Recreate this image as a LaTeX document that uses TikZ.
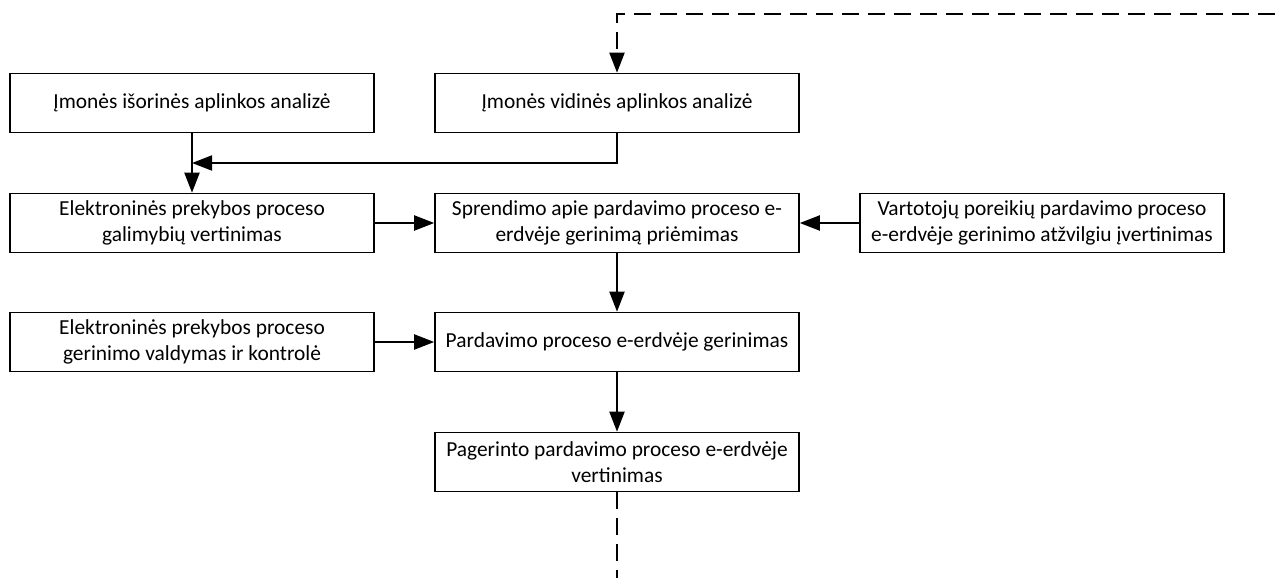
\documentclass[tikz,border=0pt]{standalone}
\usepackage{fontspec}
\setmainfont{Carlito}
\usetikzlibrary{arrows.meta}
\begin{document}
\begin{tikzpicture}[x=1pt,y=-1pt,
  box/.style={draw,line width=1.6pt,rectangle,minimum width=364pt,minimum height=59pt,
    align=center,inner sep=2pt,font=\fontsize{21.4}{25.5}\selectfont},
  tip/.style={-{Triangle[length=20pt,width=15pt]}},
  conn/.style={line width=2pt,tip},
  loopline/.style={line width=2pt,dash pattern=on 17pt off 9pt}]
  \useasboundingbox (0,0) rectangle (1275,578);
  % process boxes
  \node[box] (A) at (192,103) {Įmonės išorinės aplinkos analizė};
  \node[box] (B) at (617,103) {Įmonės vidinės aplinkos analizė};
  \node[box] (C) at (192,223) {Elektroninės prekybos proceso\\galimybių vertinimas};
  \node[box] (D) at (617,223) {Sprendimo apie pardavimo proceso e-\\erdvėje gerinimą priėmimas};
  \node[box] (E) at (1042,223) {Vartotojų poreikių pardavimo proceso\\e-erdvėje gerinimo atžvilgiu įvertinimas};
  \node[box] (F) at (192,342) {Elektroninės prekybos proceso\\gerinimo valdymas ir kontrolė};
  \node[box] (G) at (617,342) {Pardavimo proceso e-erdvėje gerinimas};
  \node[box] (H) at (617,462) {Pagerinto pardavimo proceso e-erdvėje\\vertinimas};
  % auxiliary points
  \coordinate (j) at (192,163);
  \coordinate (tr) at (1275,14);
  \coordinate (bt) at (617,578);
  % solid connectors
  \draw[conn] (A.south) -- (C.north);
  \draw[conn] (B.south) |- (j);
  \draw[conn] (C.east) -- (D.west);
  \draw[conn] (E.west) -- (D.east);
  \draw[conn] (D.south) -- (G.north);
  \draw[conn] (F.east) -- (G.west);
  \draw[conn] (G.south) -- (H.north);
  % feedback loop (dashed)
  \draw[loopline] (H.south) -- (bt);
  \draw[loopline,tip] (tr) -| (B.north);
\end{tikzpicture}
\end{document}
